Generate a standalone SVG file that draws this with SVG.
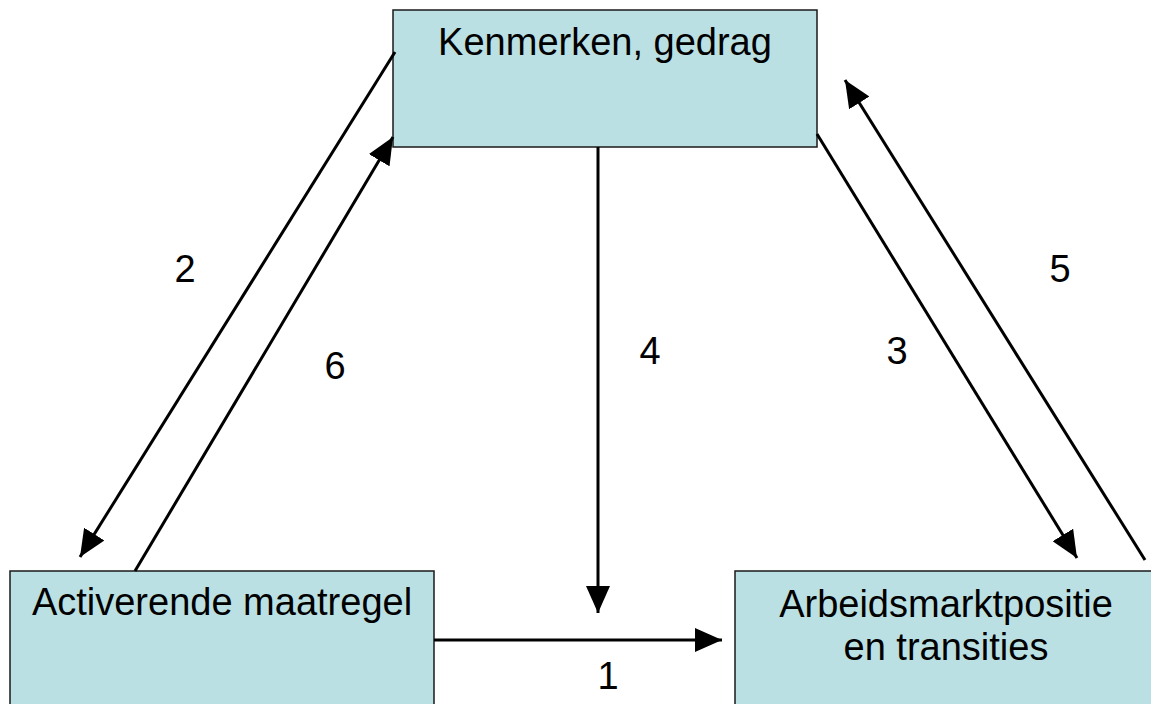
<svg xmlns="http://www.w3.org/2000/svg" width="1151" height="704" viewBox="0 0 1151 704">
<style>
.box{fill:#BAE0E3;stroke:#1a1a1a;stroke-width:1.5}
.t{font-family:"Liberation Sans",Arial,sans-serif;font-size:38px;fill:#000;text-anchor:middle}
.c{stroke:#000;stroke-width:3;fill:none;marker-end:url(#ah)}
</style>
<defs>
<marker id="ah" markerUnits="userSpaceOnUse" viewBox="0 0 27 24" refX="27" refY="12" markerWidth="27" markerHeight="24" orient="auto">
<path d="M0,0 L27,12 L0,24 Z" fill="#000"/>
</marker>
</defs>
<rect width="1151" height="704" fill="#fff"/>
<g id="node-kenmerken">
<rect class="box" x="393" y="10" width="424" height="137"/>
<text class="t" x="605" y="55">Kenmerken, gedrag</text>
</g>
<g id="node-activerende">
<rect class="box" x="10" y="571" width="424" height="150"/>
<text class="t" x="222" y="615">Activerende maatregel</text>
</g>
<g id="node-arbeidsmarkt">
<rect class="box" x="735" y="571" width="424" height="150"/>
<text class="t" x="946" y="617">Arbeidsmarktpositie</text>
<text class="t" x="946" y="660">en transities</text>
</g>
<g id="connectors">
<line class="c" x1="434" y1="640" x2="722" y2="640"/>
<line class="c" x1="598" y1="147" x2="598" y2="613"/>
<line class="c" x1="395" y1="52" x2="80" y2="557"/>
<line class="c" x1="135" y1="571" x2="393" y2="137"/>
<line class="c" x1="817" y1="134" x2="1077" y2="558"/>
<line class="c" x1="1145" y1="560" x2="845" y2="80"/>
</g>
<g id="labels">
<text class="t" x="608" y="689">1</text>
<text class="t" x="185" y="282">2</text>
<text class="t" x="897" y="364">3</text>
<text class="t" x="650" y="364">4</text>
<text class="t" x="1060" y="282">5</text>
<text class="t" x="335" y="379">6</text>
</g>
</svg>
